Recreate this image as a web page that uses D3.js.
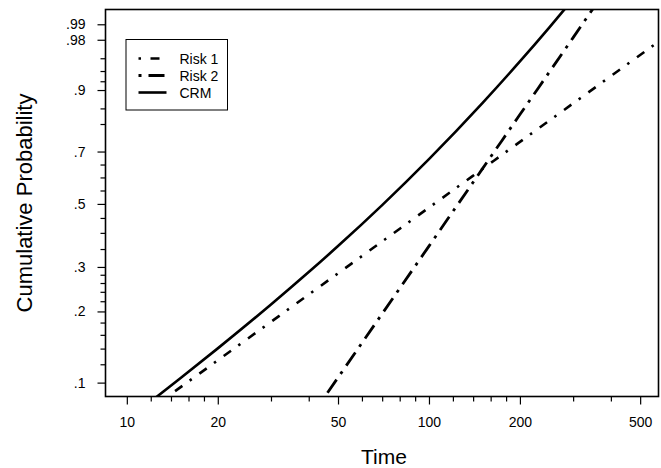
<!DOCTYPE html>
<html>
<head>
<meta charset="utf-8">
<script src="https://cdn.jsdelivr.net/npm/d3@7"></script>
<style>
  body { margin: 0; background: #fff; }
  svg { display: block; font-family: "Liberation Sans", Arial, sans-serif; }
  .tick text { font-size: 14px; fill: #000; }
  .tick line { stroke: #000; stroke-width: 1.2; }
</style>
</head>
<body>
<svg id="chart" width="661" height="468"></svg>
<script>
// ---------------------------------------------------------
// data (time, cumulative probability)
// ---------------------------------------------------------
const risk1Time = [12, 20, 50, 100, 200, 600];
const risk1Prob = [0.0769, 0.1248, 0.2835, 0.4866, 0.7364, 0.9817];

const risk2Time = [40, 60, 100, 150, 200, 300, 380];
const risk2Prob = [0.0686, 0.1479, 0.3588, 0.6321, 0.8310, 0.9817, 0.9984];

const crmTime = [12.5, 15, 20, 30, 40, 50, 70, 100, 150, 200, 250, 280, 290];
const crmProb = [0.0863, 0.1042, 0.1403, 0.2134, 0.2867, 0.3588, 0.4956, 0.6708, 0.8647, 0.9555, 0.9883, 0.9953, 0.9966];

// axis ticks
const xMajor = [10, 20, 50, 100, 200, 500];
const xMinor = [12, 14, 16, 18, 30, 40, 60, 70, 80, 90, 120, 140, 160, 180, 300, 400];
const yMajor = [0.1, 0.2, 0.3, 0.5, 0.7, 0.9, 0.98, 0.99];
const yMajorLabels = [".1", ".2", ".3", ".5", ".7", ".9", ".98", ".99"];
const yMinor = [0.12, 0.14, 0.16, 0.18, 0.22, 0.24, 0.26, 0.28, 0.35, 0.4, 0.45,
                0.55, 0.6, 0.65, 0.8, 0.85, 0.92, 0.94, 0.96];

const seriesNames = ["Risk 1", "Risk 2", "CRM"];

// ---------------------------------------------------------
// scales: log time vs weibull probability
// ---------------------------------------------------------
const plot = {left: 105.5, right: 658.5, top: 9.5, bottom: 396.5};
const svg = d3.select("#chart");

const weib = p => Math.log(-Math.log(1 - p));

const x = d3.scaleLog().domain([8.5, 575]).range([plot.left, plot.right]);
const yW = d3.scaleLinear().domain([weib(0.087), weib(0.9954)]).range([plot.bottom, plot.top]);
const y = p => yW(weib(p));

svg.append("defs").append("clipPath").attr("id", "clip")
  .append("rect")
  .attr("x", plot.left).attr("y", plot.top)
  .attr("width", plot.right - plot.left).attr("height", plot.bottom - plot.top);

// ---------------------------------------------------------
// axes
// ---------------------------------------------------------
const gx = svg.append("g").attr("transform", `translate(0,${plot.bottom})`);
gx.append("g")
  .call(d3.axisBottom(x).tickValues(xMinor).tickSize(5).tickFormat(""))
  .call(g => g.select(".domain").remove());
gx.append("g")
  .call(d3.axisBottom(x).tickValues(xMajor).tickSize(8).tickPadding(13).tickFormat(d3.format("d")))
  .call(g => g.select(".domain").remove());

const gy = svg.append("g").attr("transform", `translate(${plot.left},0)`);
gy.append("g")
  .call(d3.axisLeft(yW).tickValues(yMinor.map(weib)).tickSize(5).tickFormat(""))
  .call(g => g.select(".domain").remove());
gy.append("g")
  .call(d3.axisLeft(yW).tickValues(yMajor.map(weib)).tickSize(8).tickPadding(12)
    .tickFormat((d, i) => yMajorLabels[i]))
  .call(g => g.select(".domain").remove());

// frame
svg.append("rect")
  .attr("x", plot.left).attr("y", plot.top)
  .attr("width", plot.right - plot.left).attr("height", plot.bottom - plot.top)
  .attr("fill", "none").attr("stroke", "#000").attr("stroke-width", 1.6);

// axis titles
svg.append("text")
  .attr("x", 384).attr("y", 464)
  .attr("text-anchor", "middle")
  .style("font-size", "21px")
  .text("Time");

svg.append("text")
  .attr("transform", "translate(32,203) rotate(-90)")
  .attr("text-anchor", "middle")
  .style("font-size", "22px")
  .text("Cumulative Probability");

// ---------------------------------------------------------
// lines
// ---------------------------------------------------------
const styles = [
  {dash: "9,9,2.5,9.5", width: 2.6, legendOffset: 18},
  {dash: "16,7,3,7", width: 2.8, legendOffset: 23},
  {dash: null, width: 2.6, legendOffset: 0}
];
const series = [
  d3.zip(risk1Time, risk1Prob),
  d3.zip(risk2Time, risk2Prob),
  d3.zip(crmTime, crmProb)
];

const line = d3.line()
  .x(d => x(d[0]))
  .y(d => y(d[1]))
  .curve(d3.curveMonotoneX);

svg.append("g").attr("clip-path", "url(#clip)")
  .selectAll("path")
  .data(series)
  .join("path")
    .attr("d", line)
    .attr("fill", "none")
    .attr("stroke", "#000")
    .attr("stroke-width", (d, i) => styles[i].width)
    .attr("stroke-dasharray", (d, i) => styles[i].dash);

// ---------------------------------------------------------
// legend
// ---------------------------------------------------------
const legend = svg.append("g");
legend.append("rect")
  .attr("x", 126).attr("y", 39.5).attr("width", 101.5).attr("height", 70.5)
  .attr("fill", "#fff").attr("stroke", "#000").attr("stroke-width", 1);

const rows = legend.selectAll("g.row")
  .data(seriesNames)
  .join("g")
    .attr("class", "row")
    .attr("transform", (d, i) => `translate(0,${58.5 + i * 17})`);

rows.append("line")
  .attr("x1", 138.5).attr("x2", 166.5)
  .attr("stroke", "#000")
  .attr("stroke-width", (d, i) => styles[i].width)
  .attr("stroke-dasharray", (d, i) => styles[i].dash)
  .attr("stroke-dashoffset", (d, i) => styles[i].legendOffset);

rows.append("text")
  .attr("x", 179.5).attr("dy", "0.36em")
  .style("font-size", "14px")
  .text(d => d);
</script>
</body>
</html>
